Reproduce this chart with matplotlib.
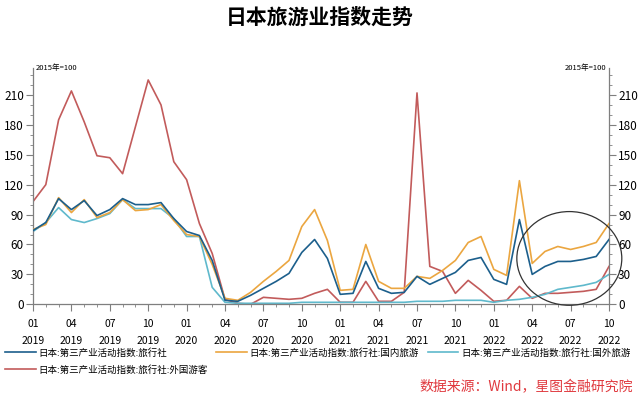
import matplotlib
matplotlib.use('Agg')
import matplotlib.pyplot as plt
from matplotlib.patches import Ellipse
from matplotlib.ticker import MultipleLocator
import numpy as np

plt.rcParams['font.family'] = ['Noto Sans CJK SC', 'DejaVu Sans']

title = "日本旅游业指数走势"
unit_label = "2015年=100"
source = "数据来源：Wind，星图金融研究院"

tick_labels = ["01\n2019", "04\n2019", "07\n2019", "10\n2019",
               "01\n2020", "04\n2020", "07\n2020", "10\n2020",
               "01\n2021", "04\n2021", "07\n2021", "10\n2021",
               "01\n2022", "04\n2022", "07\n2022", "10\n2022"]

name_agency = "日本:第三产业活动指数:旅行社"
name_domestic = "日本:第三产业活动指数:旅行社:国内旅游"
name_outbound = "日本:第三产业活动指数:旅行社:国外旅游"
name_inbound = "日本:第三产业活动指数:旅行社:外国游客"

# Monthly values, Jan 2019 .. Oct 2022
agency = [74, 82, 106, 95, 104, 89, 95, 106, 100, 100, 102, 86,
          73, 69, 44, 4, 3, 9, 16, 23, 31, 52, 65, 46,
          10, 11, 43, 16, 11, 12, 28, 20, 26, 32, 44, 47,
          25, 20, 85, 30, 38, 43, 43, 45, 48, 65]
domestic = [75, 80, 107, 92, 105, 87, 92, 105, 94, 95, 100, 84,
            70, 68, 40, 6, 4, 12, 23, 33, 44, 78, 95, 64,
            14, 15, 60, 23, 16, 16, 28, 26, 34, 44, 62, 68,
            35, 29, 124, 41, 53, 58, 55, 58, 62, 81]
outbound = [73, 82, 97, 85, 82, 86, 91, 105, 96, 96, 96, 86,
            68, 68, 17, 2, 1, 1, 1, 1, 1, 2, 2, 2,
            2, 2, 2, 2, 2, 2, 3, 3, 3, 4, 4, 4,
            2, 4, 5, 7, 10, 15, 17, 19, 22, 30]
inbound = [103, 120, 185, 214, 183, 149, 147, 131, 178, 225, 200, 143,
           125, 81, 51, 5, 1, 0, 7, 6, 5, 6, 11, 15,
           2, 2, 23, 3, 3, 12, 212, 38, 33, 11, 24, 14,
           3, 4, 18, 6, 11, 11, 12, 13, 15, 38]

x = np.arange(len(agency))

fig = plt.figure(figsize=(6.4, 3.99), dpi=100)
ax = fig.add_axes([33/640, 1 - 304.3/399, 576/640, (304.3 - 68)/399])

lw = 1.2
l1, = ax.plot(x, agency, color='#1c5f8c', lw=lw, label=name_agency, zorder=4)
l2, = ax.plot(x, domestic, color='#eba640', lw=lw, label=name_domestic, zorder=3)
l3, = ax.plot(x, outbound, color='#5fb9cc', lw=lw, label=name_outbound, zorder=2)
l4, = ax.plot(x, inbound, color='#c25b5b', lw=lw, label=name_inbound, zorder=1)

ax.set_xlim(0, 45)
ax.set_ylim(0, 237)
ax.xaxis.set_minor_locator(MultipleLocator(1))
ax.set_xticks(np.arange(0, 46, 3))
ax.set_xticklabels(tick_labels)
ax.yaxis.set_major_locator(MultipleLocator(30))
ax.yaxis.set_minor_locator(MultipleLocator(10))

for s in ['left', 'right', 'bottom']:
    ax.spines[s].set_color('#7f7f7f')
    ax.spines[s].set_linewidth(0.9)
ax.spines['top'].set_visible(False)

ax.tick_params(axis='both', which='both', direction='out', color='#7f7f7f')
ax.tick_params(axis='y', which='major', length=5, labelsize=8.5, right=True, labelright=True, pad=1.5)
ax.tick_params(axis='y', which='minor', length=2.5, right=True)
ax.tick_params(axis='x', which='major', length=5, labelsize=7.5, pad=5.5)
ax.tick_params(axis='x', which='minor', length=2.5)
for lab in ax.get_xticklabels():
    lab.set_linespacing(1.9)

ax.text(0.004, 1.0, unit_label, transform=ax.transAxes, ha='left', va='center', fontsize=5.5)
ax.text(0.996, 1.0, unit_label, transform=ax.transAxes, ha='right', va='center', fontsize=5.5)

circ = Ellipse((41.9, 46), width=8.2, height=94, fill=False, edgecolor='#333333', lw=0.9,
               clip_on=False, zorder=5)
ax.add_patch(circ)

fig.text(0.5, 1 - 17/399, title, ha='center', va='center', fontsize=15, fontweight='bold')

fig.legend(handles=[l1, l4, l2, l3], ncol=3, loc='upper left', bbox_to_anchor=(0.008, 0.128),
           frameon=False, fontsize=6.85, handlelength=3.2, columnspacing=0.9,
           handletextpad=0.3, borderaxespad=0, borderpad=0, labelspacing=0.75)

fig.text(633/640, 1 - 387/399, source, ha='right', va='center', color='#e0393e',
         fontsize=10, style='italic')

fig.savefig('out.png', dpi=100)
